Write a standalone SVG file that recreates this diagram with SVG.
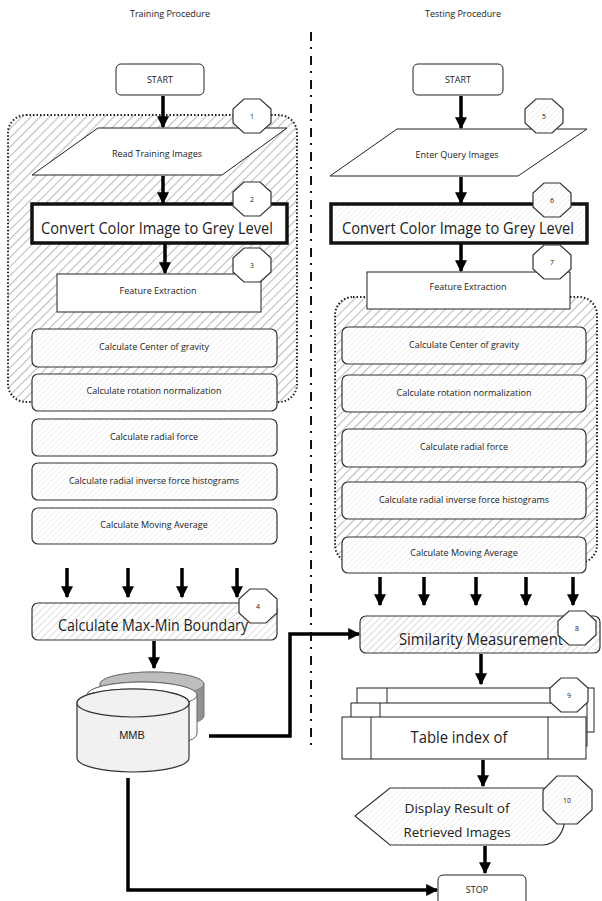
<svg xmlns="http://www.w3.org/2000/svg" width="602" height="901" viewBox="0 0 602 901">
<style>
  text { font-family: "Open Sans", "Noto Sans", sans-serif; fill: #222; text-anchor: middle; }
  .s { font-size: 9px; }
  .b { font-size: 16px; }
  .n { font-size: 7px; }
  .box { fill: #fff; stroke: #222; stroke-width: 1; }
  .calc { fill: url(#hatchLight); stroke: #333; stroke-width: 1.2; }
  .thick { stroke: #111; stroke-width: 3.5; }
  .region { fill: url(#hatchRegion); stroke: #222; stroke-width: 2; stroke-dasharray: 1.5 2; }
  .oct { stroke: #333; stroke-width: 1.2; }
  .conn { fill: none; stroke: #000; stroke-width: 3.5; }
</style>
<defs>
  <pattern id="hatchRegion" width="6.5" height="6.5" patternUnits="userSpaceOnUse" patternTransform="rotate(45)">
    <rect width="6.5" height="6.5" fill="#fff"/>
    <line x1="0" y1="0" x2="0" y2="6.5" stroke="#bdbdbd" stroke-width="2.2"/>
  </pattern>
  <pattern id="hatchMed" width="5" height="5" patternUnits="userSpaceOnUse" patternTransform="rotate(45)">
    <rect width="5" height="5" fill="#fff"/>
    <line x1="0" y1="0" x2="0" y2="5" stroke="#cfcfcf" stroke-width="1.5"/>
  </pattern>
  <pattern id="hatchLight" width="4" height="4" patternUnits="userSpaceOnUse" patternTransform="rotate(45)">
    <rect width="4" height="4" fill="#fff"/>
    <line x1="0" y1="0" x2="0" y2="4" stroke="#e4e4e4" stroke-width="1"/>
  </pattern>
  <pattern id="dots" width="4" height="4" patternUnits="userSpaceOnUse">
    <rect width="4" height="4" fill="#f2f2f2"/>
    <circle cx="2" cy="2" r="0.6" fill="#e2e2e2"/>
  </pattern>
  <linearGradient id="grayCyl" x1="0" y1="0" x2="1" y2="0">
    <stop offset="0" stop-color="#e6e6e6"/>
    <stop offset="0.6" stop-color="#c8c8c8"/>
    <stop offset="1" stop-color="#8c8c8c"/>
  </linearGradient>
  <polygon id="oct" points="19,-7 8,-17 -8,-17 -19,-7 -19,7 -8,17 8,17 19,7"/>
  <marker id="arr" viewBox="0 0 10 10" refX="9" refY="5" markerWidth="12" markerHeight="12" markerUnits="userSpaceOnUse" orient="auto">
    <path d="M0,0 L10,5 L0,10 Z" fill="#000"/>
  </marker>
</defs>

<rect width="602" height="901" fill="#fff"/>

<g id="headers">
  <text class="s" x="170" y="17">Training Procedure</text>
  <text class="s" x="463" y="17">Testing Procedure</text>
  <line x1="311" y1="32" x2="311" y2="745" stroke="#111" stroke-width="2" stroke-dasharray="9 6 2 7"/>
</g>

<!-- Regions -->
<g id="region-train"><rect class="region" x="8" y="115" width="289" height="287" rx="18"/></g>
<g id="region-test"><rect class="region" x="335" y="297" width="262" height="266" rx="18"/></g>

<!-- Training nodes -->
<g id="start-train">
  <rect class="box" x="116" y="64" width="88" height="31" rx="5"/>
  <text class="s" x="160" y="83" font-size="8">START</text>
</g>
<g id="read-train">
  <polygon class="box" points="98,128 287,128 222,175 32,175"/>
  <text class="s" x="157" y="157">Read Training Images</text>
</g>
<g id="convert-train">
  <rect class="box thick" x="32" y="204" width="255" height="39"/>
  <text class="b" x="157" y="234" textLength="232" lengthAdjust="spacingAndGlyphs">Convert Color Image to Grey Level</text>
</g>
<g id="feature-train">
  <rect class="box" x="57" y="274" width="204" height="38"/>
  <text class="s" x="158" y="294">Feature Extraction</text>
</g>
<g id="cog-train">
  <rect class="calc" x="32" y="329" width="245" height="38" rx="6"/>
  <text class="s" x="154" y="350">Calculate Center of gravity</text>
</g>
<g id="rot-train">
  <rect class="calc" x="32" y="374" width="245" height="37" rx="6"/>
  <text class="s" x="154" y="394">Calculate rotation normalization</text>
</g>
<g id="radial-train">
  <rect class="calc" x="32" y="419" width="245" height="37" rx="6"/>
  <text class="s" x="154" y="440">Calculate radial force</text>
</g>
<g id="inverse-train">
  <rect class="calc" x="32" y="463" width="245" height="37" rx="6"/>
  <text class="s" x="154" y="484">Calculate radial inverse force histograms</text>
</g>
<g id="moving-train">
  <rect class="calc" x="32" y="508" width="245" height="36" rx="6"/>
  <text class="s" x="154" y="528">Calculate Moving Average</text>
</g>
<g id="maxmin">
  <rect x="32" y="603" width="245" height="37" rx="6" fill="url(#hatchMed)" stroke="#333" stroke-width="1.2"/>
  <text class="b" x="153" y="631" textLength="190" lengthAdjust="spacingAndGlyphs">Calculate Max-Min Boundary</text>
</g>
<g id="mmb">
  <path d="M100,684 A52,12 0 0 1 204,684 V716 A52,12 0 0 1 100,716 Z" fill="url(#grayCyl)" stroke="#777" stroke-width="1"/>
  <ellipse cx="152" cy="684" rx="52" ry="12" fill="#bdbdbd" stroke="#777" stroke-width="1"/>
  <path d="M87,695 A55,13 0 0 1 197,695 V734 A55,13 0 0 1 87,734 Z" fill="#fafafa" stroke="#666" stroke-width="1"/>
  <ellipse cx="142" cy="695" rx="55" ry="13" fill="#fff" stroke="#666" stroke-width="1"/>
  <path d="M77,703 A56,14 0 0 1 189,703 V758 A56,14 0 0 1 77,758 Z" fill="url(#dots)" stroke="#333" stroke-width="1.2"/>
  <ellipse cx="133" cy="703" rx="56" ry="14" fill="url(#dots)" stroke="#333" stroke-width="1.2"/>
  <text x="132" y="739" style="font-family:'Liberation Sans',Arial,sans-serif;font-size:11px">MMB</text>
</g>

<!-- Testing nodes -->
<g id="start-test">
  <rect class="box" x="413" y="64" width="90" height="31" rx="5"/>
  <text class="s" x="458" y="83" font-size="8">START</text>
</g>
<g id="enter-test">
  <polygon class="box" points="397,129 587,129 518,176 330,176"/>
  <text class="s" x="457" y="158">Enter Query Images</text>
</g>
<g id="convert-test">
  <rect x="331" y="204" width="256" height="39" fill="url(#hatchLight)" class="thick"/>
  <text class="b" x="458" y="234" textLength="232" lengthAdjust="spacingAndGlyphs">Convert Color Image to Grey Level</text>
</g>
<g id="feature-test">
  <rect class="box" x="367" y="272" width="203" height="37"/>
  <text class="s" x="468" y="290">Feature Extraction</text>
</g>
<g id="cog-test">
  <rect class="calc" x="342" y="327" width="244" height="37" rx="6"/>
  <text class="s" x="464" y="348">Calculate Center of gravity</text>
</g>
<g id="rot-test">
  <rect class="calc" x="342" y="375" width="244" height="37" rx="6"/>
  <text class="s" x="464" y="396">Calculate rotation normalization</text>
</g>
<g id="radial-test">
  <rect class="calc" x="342" y="429" width="244" height="38" rx="6"/>
  <text class="s" x="464" y="450">Calculate radial force</text>
</g>
<g id="inverse-test">
  <rect class="calc" x="342" y="482" width="244" height="37" rx="6"/>
  <text class="s" x="464" y="503">Calculate radial inverse force histograms</text>
</g>
<g id="moving-test">
  <rect class="calc" x="342" y="537" width="244" height="36" rx="6"/>
  <text class="s" x="464" y="556">Calculate Moving Average</text>
</g>
<g id="similarity">
  <rect x="360" y="616" width="240" height="37" rx="6" fill="url(#hatchMed)" stroke="#333" stroke-width="1.2"/>
  <text class="b" x="481" y="645" textLength="164" lengthAdjust="spacingAndGlyphs">Similarity Measurement</text>
</g>
<g id="table">
  <rect class="box" x="357" y="688" width="237" height="44" stroke-width="1.2"/>
  <line x1="387" y1="688" x2="387" y2="703" stroke="#222"/>
  <rect class="box" x="351" y="703" width="236" height="43" stroke-width="1.2"/>
  <line x1="380" y1="703" x2="380" y2="717" stroke="#222"/>
  <rect class="box" x="342" y="717" width="244" height="42" stroke-width="1.2"/>
  <line x1="371" y1="717" x2="371" y2="759" stroke="#222"/>
  <line x1="548" y1="717" x2="548" y2="759" stroke="#222"/>
  <text class="b" x="459" y="743" textLength="97" lengthAdjust="spacingAndGlyphs">Table index of</text>
</g>
<g id="display">
  <path d="M355,816 L390,788 H543 A22,28.5 0 0 1 543,845 H390 Z" fill="url(#hatchLight)" stroke="#333" stroke-width="1.2"/>
  <text x="457" y="813" style="font-size:13.5px" textLength="105" lengthAdjust="spacingAndGlyphs">Display Result of</text>
  <text x="457" y="837" style="font-size:13.5px" textLength="107" lengthAdjust="spacingAndGlyphs">Retrieved Images</text>
</g>
<g id="stop">
  <rect class="box" x="438" y="875" width="88" height="36" rx="5"/>
  <text class="s" x="477" y="893" font-size="7.5">STOP</text>
</g>

<!-- Connectors -->
<g id="connectors">
  <line class="conn" x1="163" y1="96" x2="163" y2="127" marker-end="url(#arr)"/>
  <line class="conn" x1="163" y1="176" x2="163" y2="203" marker-end="url(#arr)"/>
  <line class="conn" x1="165" y1="244" x2="165" y2="273" marker-end="url(#arr)"/>
  <line class="conn" x1="67" y1="568" x2="67" y2="597" marker-end="url(#arr)"/>
  <line class="conn" x1="128" y1="568" x2="128" y2="597" marker-end="url(#arr)"/>
  <line class="conn" x1="182" y1="568" x2="182" y2="597" marker-end="url(#arr)"/>
  <line class="conn" x1="237" y1="568" x2="237" y2="597" marker-end="url(#arr)"/>
  <line class="conn" x1="154" y1="641" x2="154" y2="668" marker-end="url(#arr)"/>
  <path class="conn" d="M209,736 H290 V634 H359" marker-end="url(#arr)"/>
  <path class="conn" d="M128,778 V890 H437" marker-end="url(#arr)"/>

  <line class="conn" x1="461" y1="96" x2="461" y2="128" marker-end="url(#arr)"/>
  <line class="conn" x1="461" y1="177" x2="461" y2="203" marker-end="url(#arr)"/>
  <line class="conn" x1="461" y1="244" x2="461" y2="271" marker-end="url(#arr)"/>
  <line class="conn" x1="380" y1="577" x2="380" y2="605" marker-end="url(#arr)"/>
  <line class="conn" x1="424" y1="577" x2="424" y2="605" marker-end="url(#arr)"/>
  <line class="conn" x1="476" y1="577" x2="476" y2="605" marker-end="url(#arr)"/>
  <line class="conn" x1="526" y1="577" x2="526" y2="605" marker-end="url(#arr)"/>
  <line class="conn" x1="573" y1="577" x2="573" y2="605" marker-end="url(#arr)"/>
  <line class="conn" x1="481" y1="654" x2="481" y2="684" marker-end="url(#arr)"/>
  <line class="conn" x1="483" y1="760" x2="483" y2="786" marker-end="url(#arr)"/>
  <line class="conn" x1="485" y1="846" x2="485" y2="873" marker-end="url(#arr)"/>
</g>

<!-- Step number octagons -->
<g id="step-1"><use href="#oct" x="252" y="116" fill="#fff" class="oct"/><text class="n" x="252" y="118.5">1</text></g>
<g id="step-2"><use href="#oct" x="252" y="199" fill="#fff" class="oct"/><text class="n" x="252" y="201.5">2</text></g>
<g id="step-3"><use href="#oct" x="252" y="265" fill="#fff" class="oct"/><text class="n" x="252" y="267.5">3</text></g>
<g id="step-4"><use href="#oct" x="258" y="606" fill="#fff" class="oct"/><text class="n" x="258" y="608.5">4</text></g>
<g id="step-5"><use href="#oct" x="544" y="116" fill="url(#hatchLight)" class="oct"/><text class="n" x="544" y="118.5">5</text></g>
<g id="step-6"><use href="#oct" x="552" y="200" fill="url(#hatchLight)" class="oct"/><text class="n" x="552" y="202.5">6</text></g>
<g id="step-7"><use href="#oct" x="552" y="262" fill="#fff" class="oct"/><text class="n" x="552" y="264.5">7</text></g>
<g id="step-8"><use href="#oct" x="577" y="628" fill="#fff" class="oct"/><text class="n" x="577" y="630.5">8</text></g>
<g id="step-9"><use href="#oct" x="569" y="695" fill="#fff" class="oct"/><text class="n" x="569" y="697.5">9</text></g>
<g id="step-10">
  <polygon points="592,790 577,776 557,776 543,790 543,810 557,824 577,824 592,810" fill="url(#hatchLight)" class="oct"/>
  <text class="n" x="567" y="803" font-size="8">10</text>
</g>
</svg>
